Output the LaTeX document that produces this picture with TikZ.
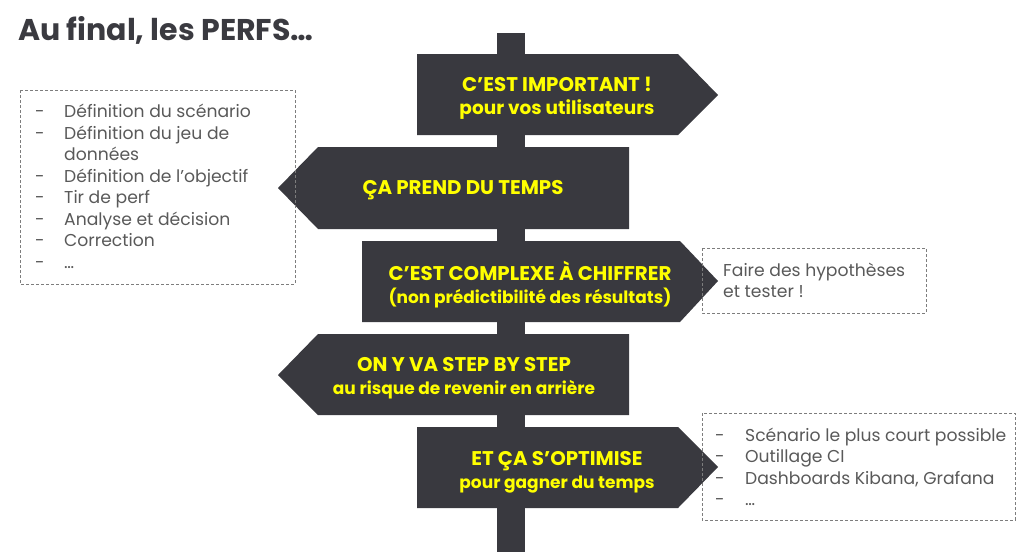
\documentclass[tikz,border=0pt]{standalone}
\usepackage{fontspec}
\setmainfont{Poppins}
\definecolor{signgray}{RGB}{57,57,63}
\definecolor{signyellow}{RGB}{255,255,0}
\definecolor{titlegray}{RGB}{58,58,64}
\definecolor{listgray}{RGB}{89,89,89}
\definecolor{dashgray}{RGB}{125,125,125}
\newcommand{\subline}[2][17]{{\fontsize{#1}{23}\selectfont #2}}

\begin{document}
\begin{tikzpicture}[x=1pt,y=-1pt,
    sign/.style={fill=signgray},
    signtext/.style={text=signyellow, font=\bfseries\fontsize{19.8}{23}\selectfont, align=center, inner sep=0pt},
    listbox/.style={draw=dashgray, line width=0.8pt, dash pattern=on 3pt off 2pt},
    listtext/.style={text=listgray, font=\fontsize{17.2}{21.5}\selectfont, anchor=base west, inner sep=0pt}]
\useasboundingbox (0,0) rectangle (1024,552);

% titre
\node[anchor=base west, inner sep=0pt, text=titlegray, font=\bfseries\fontsize{30}{34}\selectfont] (titre) at (18,40) {Au final, les PERFS…};

% poteau et panneaux
\fill[sign] (497,33) rectangle (525,552);
\fill[sign] (417,54) -- (678,54) -- (718,95) -- (678,135) -- (417,135) -- cycle;
\fill[sign] (629,147) -- (318,147) -- (278,188) -- (318,229) -- (629,229) -- cycle;
\fill[sign] (362,241) -- (680,241) -- (718,281) -- (680,322) -- (362,322) -- cycle;
\fill[sign] (629,334) -- (318,334) -- (278,375) -- (318,415) -- (629,415) -- cycle;
\fill[sign] (417,427) -- (678,427) -- (718,467) -- (678,508) -- (417,508) -- cycle;

\node[signtext] (important) at (557,98) {C’EST IMPORTANT !\\\subline[18.5]{pour vos utilisateurs}};
\node[signtext] (temps) at (463,190.5) {ÇA PREND DU TEMPS};
\node[signtext] (complexe) at (530,285) {C’EST COMPLEXE À CHIFFRER\\\subline{(non prédictibilité des résultats)}};
\node[signtext] (step) at (464,378) {ON Y VA STEP BY STEP\\\subline{au risque de revenir en arrière}};
\node[signtext] (optimise) at (557,472) {ET ÇA S’OPTIMISE\\\subline{pour gagner du temps}};

% encadres
\draw[listbox] (20,90) rectangle (295,284);
\node[listtext] (etapes) at (35,117.5) {\begin{tabular}[t]{@{}p{29pt}@{}l@{}}
- & Définition du scénario\\
- & Définition du jeu de\\
  & données\\
- & Définition de l’objectif\\
- & Tir de perf\\
- & Analyse et décision\\
- & Correction\\
- & …
\end{tabular}};

\draw[listbox] (702,248) rectangle (926,313);
\node[listtext] (hypotheses) at (723,276) {\begin{tabular}[t]{@{}l@{}}
Faire des hypothèses\\
et tester !
\end{tabular}};

\draw[listbox] (702,413) rectangle (1015,520);
\node[listtext] (outils) at (715,441) {\begin{tabular}[t]{@{}p{30pt}@{}l@{}}
- & Scénario le plus court possible\\
- & Outillage CI\\
- & Dashboards Kibana, Grafana\\
- & …
\end{tabular}};
\end{tikzpicture}
\end{document}
